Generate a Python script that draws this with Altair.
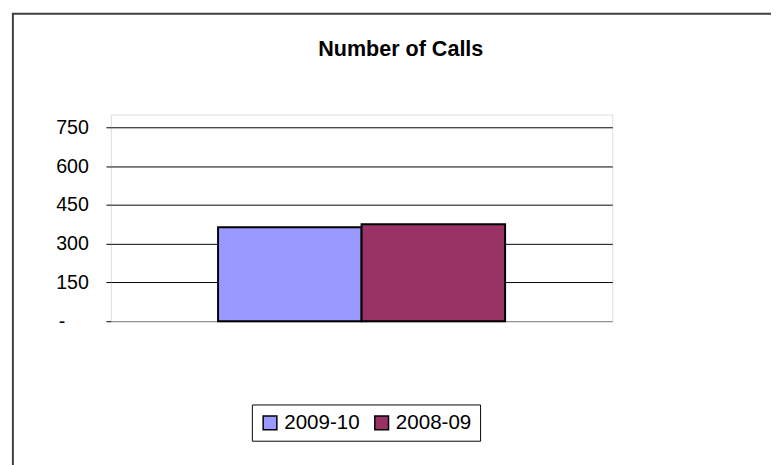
import altair as alt
import pandas as pd

series = ["2009-10", "2008-09"]
calls = [364, 375]
colors = ["#9999FF", "#993366"]
y_ticks = [0, 150, 300, 450, 600, 750]

df = pd.DataFrame({"series": series, "calls": calls})

FONT = "Liberation Sans"

bars = alt.Chart(df).mark_bar(stroke="black", strokeWidth=2).encode(
    x=alt.X("series:N", sort=series, axis=None,
            scale=alt.Scale(paddingInner=0, paddingOuter=0.747)),
    y=alt.Y("calls:Q",
            scale=alt.Scale(domain=[0, 800], nice=False),
            axis=alt.Axis(values=y_ticks, title=None, domain=False,
                          tickColor="black", tickSize=5,
                          labelPadding={"condition": {"test": "datum.value === 0", "value": 42},
                                        "value": 18},
                          labelFont=FONT, labelFontSize=20, labelColor="black",
                          labelExpr="datum.value == 0 ? '-' : datum.label",
                          gridColor={"condition": {"test": "datum.value === 0", "value": "#808080"},
                                     "value": "#000000"},
                          gridWidth=1)),
    color=alt.Color("series:N", sort=series, title=None,
                    scale=alt.Scale(domain=series, range=colors),
                    legend=alt.Legend(orient="none", legendX=144, legendY=296,
                                      direction="horizontal", strokeColor="black",
                                      padding=8, symbolType="square", symbolSize=196,
                                      symbolStrokeColor="black", symbolStrokeWidth=1.5,
                                      labelFont=FONT, labelFontSize=21, labelColor="black",
                                      labelOffset=4, columnPadding=11, labelLimit=200)),
)

frame = alt.Chart(alt.Data(values=[{}])).mark_rect(
    fill="transparent", stroke="#404040", strokeWidth=2
).encode(
    x=alt.value(-100), x2=alt.value(800),
    y=alt.value(-103), y2=alt.value(500),
)

chart = alt.layer(frame, bars).properties(
    width=512, height=211,
    title=alt.TitleParams("Number of Calls", font=FONT, fontSize=22, fontWeight="bold",
                          color="black", anchor="middle", frame="group", dx=40, dy=66,
                          baseline="alphabetic", offset=0),
    autosize=alt.AutoSizeParams(type="none"),
    padding={"left": 105, "top": 104, "right": 162, "bottom": 142},
).configure_view(stroke="#808080", strokeWidth=2.5).configure(background="white")

chart.save("out.html", embed_options={"renderer": "svg", "actions": False})
